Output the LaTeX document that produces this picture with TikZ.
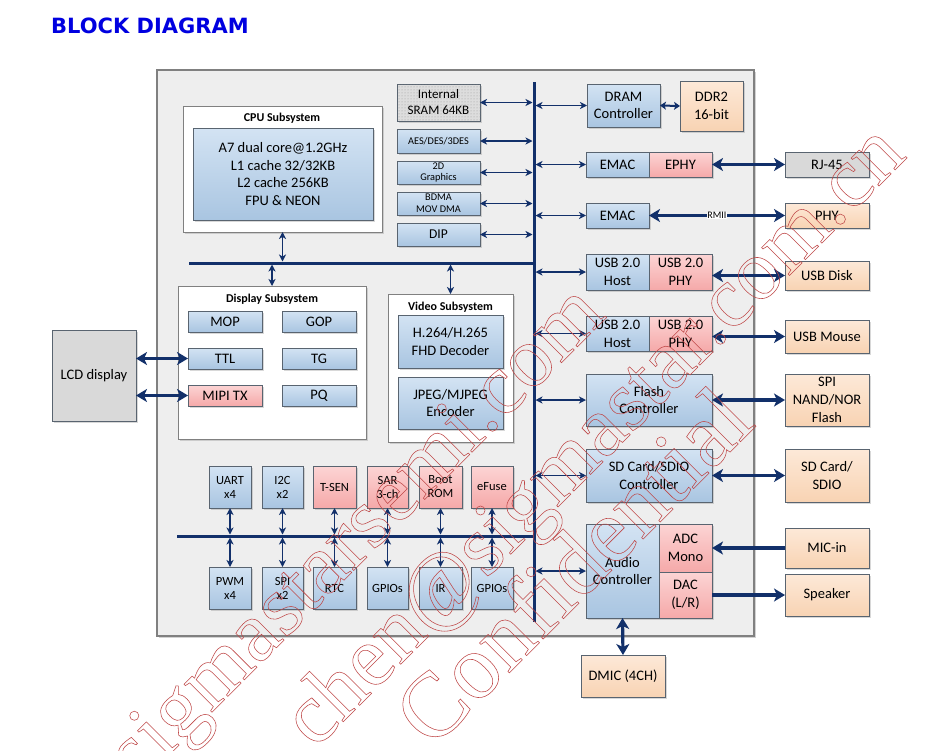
\documentclass[tikz,border=0pt]{standalone}
\usepackage{fontspec}
\setmainfont{Carlito}
\newfontfamily\ttlfont{DejaVu Sans}
\newfontfamily\wmfont{Liberation Serif}
\usetikzlibrary{arrows.meta,shadows,patterns}
\definecolor{navy}{HTML}{12306A}
\definecolor{bdr}{HTML}{596470}
\definecolor{blueT}{HTML}{D3E3F3}
\definecolor{blueB}{HTML}{A9C5E1}
\definecolor{pinkT}{HTML}{FCD4D4}
\definecolor{pinkB}{HTML}{F5A9A9}
\definecolor{peachT}{HTML}{FDE9D8}
\definecolor{peachB}{HTML}{F8D3B3}
\definecolor{grayF}{HTML}{D9D9D9}
\definecolor{chipF}{HTML}{EEEEEE}
\definecolor{chipB}{HTML}{808080}
\definecolor{wmred}{HTML}{BF4747}
\definecolor{ttlblue}{HTML}{0000E0}
\newcommand\bx[7][]{\node[#1,minimum width={(#5)-(#3)},minimum height={(#6)-(#4)}] (#2) at ({((#3)+(#5))/2},{((#4)+(#6))/2}) {#7};}
\newcommand\olt[1]{\special{pdf:literal direct 1 Tr 0.55 w}#1\special{pdf:literal direct 0 Tr}}
\tikzset{
  shd/.style={drop shadow={shadow xshift=1.5pt,shadow yshift=-1.5pt,opacity=0.3}},
  box/.style={draw=bdr,line width=0.8pt,inner sep=0pt,outer sep=0pt,align=center,shd,
    font=\fontsize{14.5pt}{17.7pt}\selectfont},
  bbox/.style={box,top color=blueT,bottom color=blueB},
  pbox/.style={box,top color=pinkT,bottom color=pinkB},
  obox/.style={box,top color=peachT,bottom color=peachB},
  gbox/.style={box,fill=grayF},
  wbox/.style={draw=chipB,line width=0.8pt,fill=white,inner sep=0pt,outer sep=0pt,shd},
  chipbox/.style={draw=chipB,line width=1.3pt,fill=chipF,inner sep=0pt,outer sep=0pt,
    drop shadow={shadow xshift=2pt,shadow yshift=-2pt,opacity=0.35}},
  sub/.style={font=\bfseries\fontsize{12pt}{14pt}\selectfont,inner sep=0pt},
  fsmall/.style={font=\fontsize{10.3pt}{11.7pt}\selectfont},
  fper/.style={font=\fontsize{12.5pt}{14pt}\selectfont},
  bus/.style={draw=navy,line width=3pt},
  tarr/.style={draw=navy,line width=1.3pt,{Stealth[length=7pt,width=7pt,inset=2pt]}-{Stealth[length=7pt,width=7pt,inset=2pt]}},
  Tarr/.style={draw=navy,line width=3.2pt,{Stealth[length=11pt,width=13pt,inset=3pt]}-{Stealth[length=11pt,width=13pt,inset=3pt]}},
  Tsingle/.style={draw=navy,line width=3.2pt,-{Stealth[length=11pt,width=13pt,inset=3pt]}},
  Marr/.style={draw=navy,line width=2pt,{Stealth[length=6pt,width=8pt,inset=1.5pt]}-{Stealth[length=6pt,width=8pt,inset=1.5pt]}},
  rmii/.style={fill=white,inner sep=0.6pt,text=black,font=\fontsize{10pt}{11pt}\selectfont},
  wm/.style={text=wmred,rotate=45,inner sep=0pt,font=\wmfont\fontsize{86pt}{86pt}\selectfont},
}
\begin{document}
\begin{tikzpicture}[x=1pt,y=-1pt]
\useasboundingbox[fill=white] (0,0) rectangle (937,750);
\node[anchor=base west,inner sep=0pt,text=ttlblue,font=\ttlfont\bfseries\fontsize{21pt}{21pt}\selectfont] (title) at (51,33) {BLOCK DIAGRAM};
% chip
\bx[chipbox]{chip}{157}{70}{754}{636}{}
% CPU subsystem
\bx[wbox]{cpu}{183}{106}{382}{232}{}
\node[sub] (cputitle) at (282,118) {CPU Subsystem};
\bx[bbox]{cpuin}{193}{128}{373}{220}{A7 dual core@1.2GHz\\L1 cache 32/32KB\\L2 cache 256KB\\FPU \& NEON}
% small blocks
\bx[box,fill=grayF!90,postaction={pattern=dots,pattern color=gray!80},font=\fontsize{13pt}{16pt}\selectfont]{sram}{397}{84}{480}{121}{Internal\\SRAM 64KB}
\bx[bbox,fsmall]{aes}{397}{129}{480}{153}{AES/DES/3DES}
\bx[bbox,fsmall]{gfx}{397}{161}{480}{184}{2D\\Graphics}
\bx[bbox,fsmall]{bdma}{397}{192}{480}{215}{BDMA\\MOV DMA}
\bx[bbox,font=\fontsize{13.5pt}{16pt}\selectfont]{dip}{397}{223}{480}{246}{DIP}
% display subsystem
\bx[wbox]{disp}{178}{286}{366}{439}{}
\node[sub] (disptitle) at (272,299) {Display Subsystem};
\bx[bbox]{mop}{188}{311}{262}{332}{MOP}
\bx[bbox]{gop}{282}{311}{356}{332}{GOP}
\bx[bbox]{ttl}{188}{348}{262}{369}{TTL}
\bx[bbox]{tg}{282}{348}{356}{369}{TG}
\bx[pbox]{mipi}{188}{385}{262}{406}{MIPI TX}
\bx[bbox]{pq}{282}{385}{356}{406}{PQ}
% video subsystem
\bx[wbox]{vid}{388}{294}{513}{442}{}
\node[sub] (vidtitle) at (450.5,307) {Video Subsystem};
\bx[bbox]{dec}{398}{315}{503}{368}{H.264/H.265\\FHD Decoder}
\bx[bbox]{enc}{398}{377}{503}{429}{JPEG/MJPEG\\Encoder}
% LCD
\bx[gbox]{lcd}{52}{330}{136}{421}{LCD display}
% peripherals
\bx[bbox,fper]{uart}{209}{466}{251}{508}{UART\\x4}
\bx[bbox,fper]{i2c}{262}{466}{303}{508}{I2C\\x2}
\bx[pbox,fper]{tsen}{313}{466}{356}{508}{T-SEN}
\bx[pbox,fper]{sar}{367}{466}{408}{508}{SAR\\3-ch}
\bx[pbox,fper]{boot}{419}{466}{462}{508}{Boot\\ROM}
\bx[pbox,fper]{efuse}{471}{466}{513}{508}{eFuse}
\bx[bbox,fper]{pwm}{209}{567}{251}{609}{PWM\\x4}
\bx[bbox,fper]{spi}{262}{567}{303}{609}{SPI\\x2}
\bx[bbox,fper]{rtc}{313}{567}{356}{609}{RTC}
\bx[bbox,fper]{gpioA}{367}{567}{408}{609}{GPIOs}
\bx[bbox,fper]{ir}{419}{567}{462}{609}{IR}
\bx[bbox,fper]{gpioB}{471}{567}{513}{609}{GPIOs}
% right column
\bx[bbox]{dram}{587}{84}{660}{127}{DRAM\\Controller}
\bx[obox]{ddr}{680}{81}{743}{131}{DDR2\\16-bit}
\bx[bbox]{emacA}{586}{152}{649}{177}{EMAC}
\bx[pbox]{ephy}{649}{152}{712}{177}{EPHY}
\bx[gbox]{rj}{785}{152}{869}{177}{RJ-45}
\bx[bbox]{emacB}{586}{203}{649}{228}{EMAC}
\bx[obox]{phy}{785}{203}{869}{228}{PHY}
\bx[bbox]{usbhA}{586}{254}{649}{290}{USB 2.0\\Host}
\bx[pbox]{usbpA}{649}{254}{712}{290}{USB 2.0\\PHY}
\bx[obox]{usbdisk}{785}{261}{869}{290}{USB Disk}
\bx[bbox]{usbhB}{586}{316}{649}{351}{USB 2.0\\Host}
\bx[pbox]{usbpB}{649}{316}{712}{351}{USB 2.0\\PHY}
\bx[obox]{mouse}{785}{320}{869}{353}{USB Mouse}
\bx[bbox]{flash}{586}{374}{712}{426}{Flash\\Controller}
\bx[obox]{spiflash}{785}{374}{869}{426}{SPI\\NAND/NOR\\Flash}
\bx[bbox]{sdc}{586}{449}{712}{502}{SD Card/SDIO\\Controller}
\bx[obox]{sdcard}{785}{449}{869}{502}{SD Card/\\SDIO}
\bx[bbox]{audio}{586}{524}{659}{618}{Audio\\Controller}
\bx[pbox]{adc}{659}{524}{712}{572}{ADC\\Mono}
\bx[pbox]{dac}{659}{572}{712}{618}{DAC\\(L/R)}
\bx[obox]{mic}{785}{528}{869}{568}{MIC-in}
\bx[obox]{spk}{785}{574}{869}{616}{Speaker}
\bx[obox]{dmic}{581}{655}{665}{697}{DMIC (4CH)}
% buses
\coordinate (vbT) at (534,82);
\coordinate (vbB) at (534,622);
\coordinate (hb1) at (189,263);
\coordinate (hb2) at (177,536);
\draw[bus] (vbT) -- (vbB);
\draw[bus] (hb1) -- (hb1 -| vbT);
\draw[bus] (hb2) -- (hb2 -| vbT);
% bus arrows
\foreach \n in {sram,aes,gfx,bdma,dip}
  \draw[tarr,shorten >=1.5pt] (\n.east) -- (\n.east -| vbT);
\foreach \n in {dram,emacA,emacB,usbhA,usbhB,flash,sdc,audio}
  \draw[tarr,shorten <=1.5pt] (\n.west -| vbT) -- (\n.west);
\draw[tarr,shorten >=1.5pt] (cpu.south) -- (cpu.south |- hb1);
\draw[tarr,shorten <=1.5pt] (disp.north |- hb1) -- (disp.north);
\draw[tarr,shorten <=1.5pt] (vid.north |- hb1) -- (vid.north);
\foreach \a/\b in {uart/pwm,i2c/spi,tsen/rtc,sar/gpioA,boot/ir,efuse/gpioB}{
  \draw[tarr,shorten >=1.5pt] (\a.south) -- (\a.south |- hb2);
  \draw[tarr,shorten <=1.5pt] (\b.north |- hb2) -- (\b.north);
}
% external arrows
\draw[Tarr] (ttl.west -| lcd.east) -- (ttl.west);
\draw[Tarr] (mipi.west -| lcd.east) -- (mipi.west);
\draw[Marr] (dram.east) -- (ddr.west);
\draw[Tarr] (ephy.east) -- (rj.west);
\draw[Tarr] (emacB.east) -- node[rmii] (rmiilbl) {RMII} (phy.west);
\draw[Tarr] (usbdisk.west -| usbpA.east) -- (usbdisk.west);
\draw[Tarr] (mouse.west -| usbpB.east) -- (mouse.west);
\draw[Tarr] (flash.east) -- (spiflash.west);
\draw[Tarr] (sdc.east) -- (sdcard.west);
\draw[Tsingle] (mic.west) -- (adc.east);
\draw[Tsingle] (dac.east) -- (spk.west);
\draw[Tarr] (audio.south) -- (dmic.north);
% watermark
\node[wm] (wmA) at (360,537) {\olt{sigmastarsemi.com}};
\node[wm] (wmB) at (597,439) {\olt{chen@sigmastar.com.cn}};
\node[wm,font=\wmfont\fontsize{92pt}{92pt}\selectfont] (wmC) at (572,565) {\olt{Confidential}};
\end{tikzpicture}
\end{document}
